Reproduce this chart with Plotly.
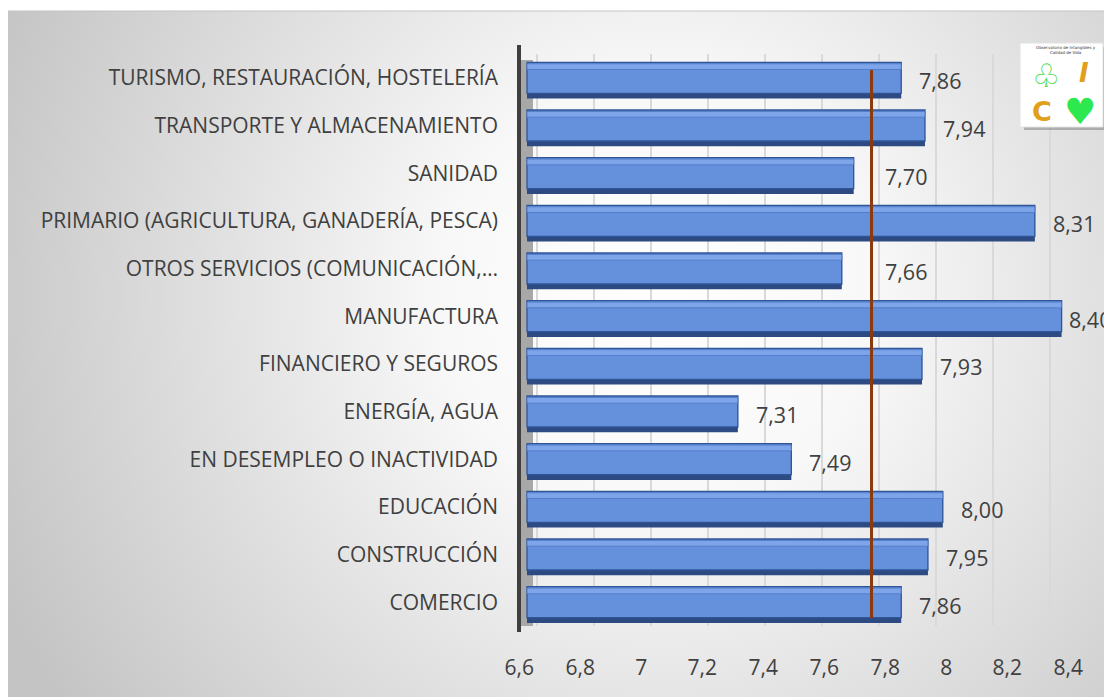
import base64
import plotly.graph_objects as go

# ---------------- data ----------------
categories = [
    "TURISMO, RESTAURACIÓN, HOSTELERÍA",
    "TRANSPORTE Y ALMACENAMIENTO",
    "SANIDAD",
    "PRIMARIO (AGRICULTURA, GANADERÍA, PESCA)",
    "OTROS SERVICIOS (COMUNICACIÓN,…",
    "MANUFACTURA",
    "FINANCIERO Y SEGUROS",
    "ENERGÍA, AGUA",
    "EN DESEMPLEO O INACTIVIDAD",
    "EDUCACIÓN",
    "CONSTRUCCIÓN",
    "COMERCIO",
]
values = [7.86, 7.94, 7.70, 8.31, 7.66, 8.40, 7.93, 7.31, 7.49, 8.00, 7.95, 7.86]
reference_line = 7.76
axis_min = 6.6
tick_values = [6.6, 6.8, 7.0, 7.2, 7.4, 7.6, 7.8, 8.0, 8.2, 8.4]

# ---------------- geometry / style ----------------
OFF = 8                      # page body margin
W, H = 1112 - OFF, 697 - OFF
L, R = 519 - OFF, 1090 - OFF
T = 54 - OFF
B = H - (626 - OFF)
PW = R - L
PH = H - T - B
FONT = "Open Sans"
TXT = "#404040"
BAR_PX = 297                 # pixels per unit for the bars
BAR_X0 = 527 - OFF           # pixel where bars start


def px(xp):
    """reference-screen x pixel -> paper"""
    return (xp - OFF - L) / PW


def py(yp):
    """reference-screen y pixel -> paper"""
    return (H - B - (yp - OFF)) / PH


def to_px(v):
    return BAR_X0 + (v - axis_min) * BAR_PX


n = len(categories)
bar_w = 0.65
base = [axis_min] * n
lengths = [v - axis_min for v in values]

fig = go.Figure()

# shadow / bottom face
fig.add_trace(go.Bar(
    y=categories, x=lengths, base=base, orientation="h",
    width=bar_w, offset=-bar_w / 2 + 0.11,
    marker=dict(color="#2d4b82", line=dict(width=0)),
    hoverinfo="skip", showlegend=False,
))
# main body
fig.add_trace(go.Bar(
    y=categories, x=lengths, base=base, orientation="h",
    width=bar_w, offset=-bar_w / 2,
    marker=dict(color="#6590dc", line=dict(color="#2f5597", width=1.3)),
    showlegend=False,
))
# top highlight face
fig.add_trace(go.Bar(
    y=categories, x=lengths, base=base, orientation="h",
    width=0.12, offset=-bar_w / 2 + 0.03,
    marker=dict(color="#7ea5ea", line=dict(color="#4d77c4", width=0.8)),
    hoverinfo="skip", showlegend=False,
))

# helper traces so the overlay axes exist
fig.add_trace(go.Scatter(x=[], y=[], xaxis="x2", showlegend=False))
fig.add_trace(go.Scatter(x=[], y=[], xaxis="x3", showlegend=False))

# data labels
LABEL_W = 42
LINE_PX = to_px(reference_line)
for c, v in zip(categories, values):
    end_px = to_px(v)
    ax, shift = v, 16
    if end_px + shift + LABEL_W > W:
        shift = 5
    if end_px + shift < LINE_PX + 8 and end_px + shift + LABEL_W > LINE_PX - 4:
        ax, shift = reference_line, 11   # move clear of the reference line
    fig.add_annotation(
        x=ax, y=c, xref="x", yref="y", xanchor="left", yanchor="middle",
        xshift=shift, yshift=-3, showarrow=False,
        text=f"{v:.2f}".replace(".", ","),
        font=dict(family=FONT, size=21.5, color=TXT),
    )

# reference line
fig.add_shape(type="line", xref="x", yref="paper",
              x0=reference_line, x1=reference_line, y0=0.014, y1=0.972,
              line=dict(color="#8b3a0e", width=3), layer="above")

# grey side wall and dark axis wall edge
grid_lo = axis_min - 18 / 285
fig.add_shape(type="rect", xref="x2", yref="paper",
              x0=grid_lo, x1=axis_min - 4 / 285, y0=py(626), y1=py(60),
              fillcolor="#a8a8a8", line=dict(width=0), layer="below")
fig.add_shape(type="line", xref="paper", yref="paper",
              x0=px(519), x1=px(519), y0=py(632), y1=py(45),
              line=dict(color="#3f3f3f", width=4), layer="above")

# logo
fig.add_shape(type="rect", xref="paper", yref="paper",
              x0=px(1024), x1=px(1107), y0=py(130), y1=py(47),
              fillcolor="rgba(110,110,110,0.45)", line=dict(width=0), layer="above")
fig.add_shape(type="rect", xref="paper", yref="paper",
              x0=px(1020), x1=px(1103), y0=py(127), y1=py(43),
              fillcolor="#ffffff", line=dict(color="#e2e2e2", width=1), layer="above")
logo_items = [
    ("Observatorio de Intangibles y<br>Calidad de Vida", 1066, 50, 4, "#333333"),
    ("♧", 1046, 76, 32, "#4cd94f"),
    ("<b><i>I</i></b>", 1084, 73, 26, "#e0a01c"),
    ("<b>C</b>", 1042, 112, 27, "#e0a01c"),
    ("♥", 1080, 111, 36, "#2de84e"),
]
for t, xx, yy, s, col in logo_items:
    fig.add_annotation(x=px(xx), y=py(yy), xref="paper", yref="paper",
                       xanchor="center", yanchor="middle", showarrow=False,
                       text=t, font=dict(family="DejaVu Sans", size=s, color=col))

# background gradient
svg = (
    f'<svg xmlns="http://www.w3.org/2000/svg" width="{W}" height="{H}">'
    '<defs><radialGradient id="g" gradientUnits="userSpaceOnUse" cx="650" cy="290" r="720">'
    '<stop offset="0" stop-color="#ffffff"/>'
    '<stop offset="0.3" stop-color="#f8f8f8"/>'
    '<stop offset="1" stop-color="#c4c4c4"/>'
    '</radialGradient></defs>'
    f'<rect x="{7 - OFF}" y="{11 - OFF}" width="{W + 10}" height="{H + 10}" fill="url(#g)" stroke="#c4c4c4"/>'
    '</svg>'
)
src = "data:image/svg+xml;base64," + base64.b64encode(svg.encode()).decode()
fig.add_layout_image(dict(
    source=src, xref="paper", yref="paper",
    x=-L / PW, y=(H - B) / PH, sizex=W / PW, sizey=H / PH,
    xanchor="left", yanchor="top", sizing="stretch", layer="below",
))

bar_lo = axis_min - (BAR_X0 - L) / BAR_PX
fig.update_layout(
    width=W, height=H,
    margin=dict(l=L, r=W - R, t=T, b=B, pad=0),
    paper_bgcolor="#ffffff",
    plot_bgcolor="rgba(0,0,0,0)",
    separators=",.",
    barmode="overlay",
    font=dict(family=FONT, color=TXT),
    xaxis=dict(range=[bar_lo, bar_lo + PW / BAR_PX], showgrid=False, zeroline=False,
               showticklabels=False, showline=False, fixedrange=True),
    xaxis2=dict(overlaying="x", anchor="y", side="bottom",
                range=[grid_lo, grid_lo + PW / 285], tick0=axis_min, dtick=0.2,
                showgrid=True, gridcolor="#d9d9d9", gridwidth=1.5,
                showticklabels=False, zeroline=False, showline=False),
    xaxis3=dict(overlaying="x", anchor="y", side="bottom",
                range=[axis_min - 0.001, axis_min - 0.001 + PW / 305],
                tickmode="array", tickvals=tick_values,
                showgrid=False, zeroline=False, showline=False,
                ticklabelstandoff=27,
                tickfont=dict(family=FONT, size=21, color=TXT)),
    yaxis=dict(range=[n - 0.5, -0.5], showgrid=False, zeroline=False,
               showline=False, ticks="", ticklabelstandoff=20,
               tickfont=dict(family=FONT, size=21, color=TXT)),
)

fig.write_html("out.html")
